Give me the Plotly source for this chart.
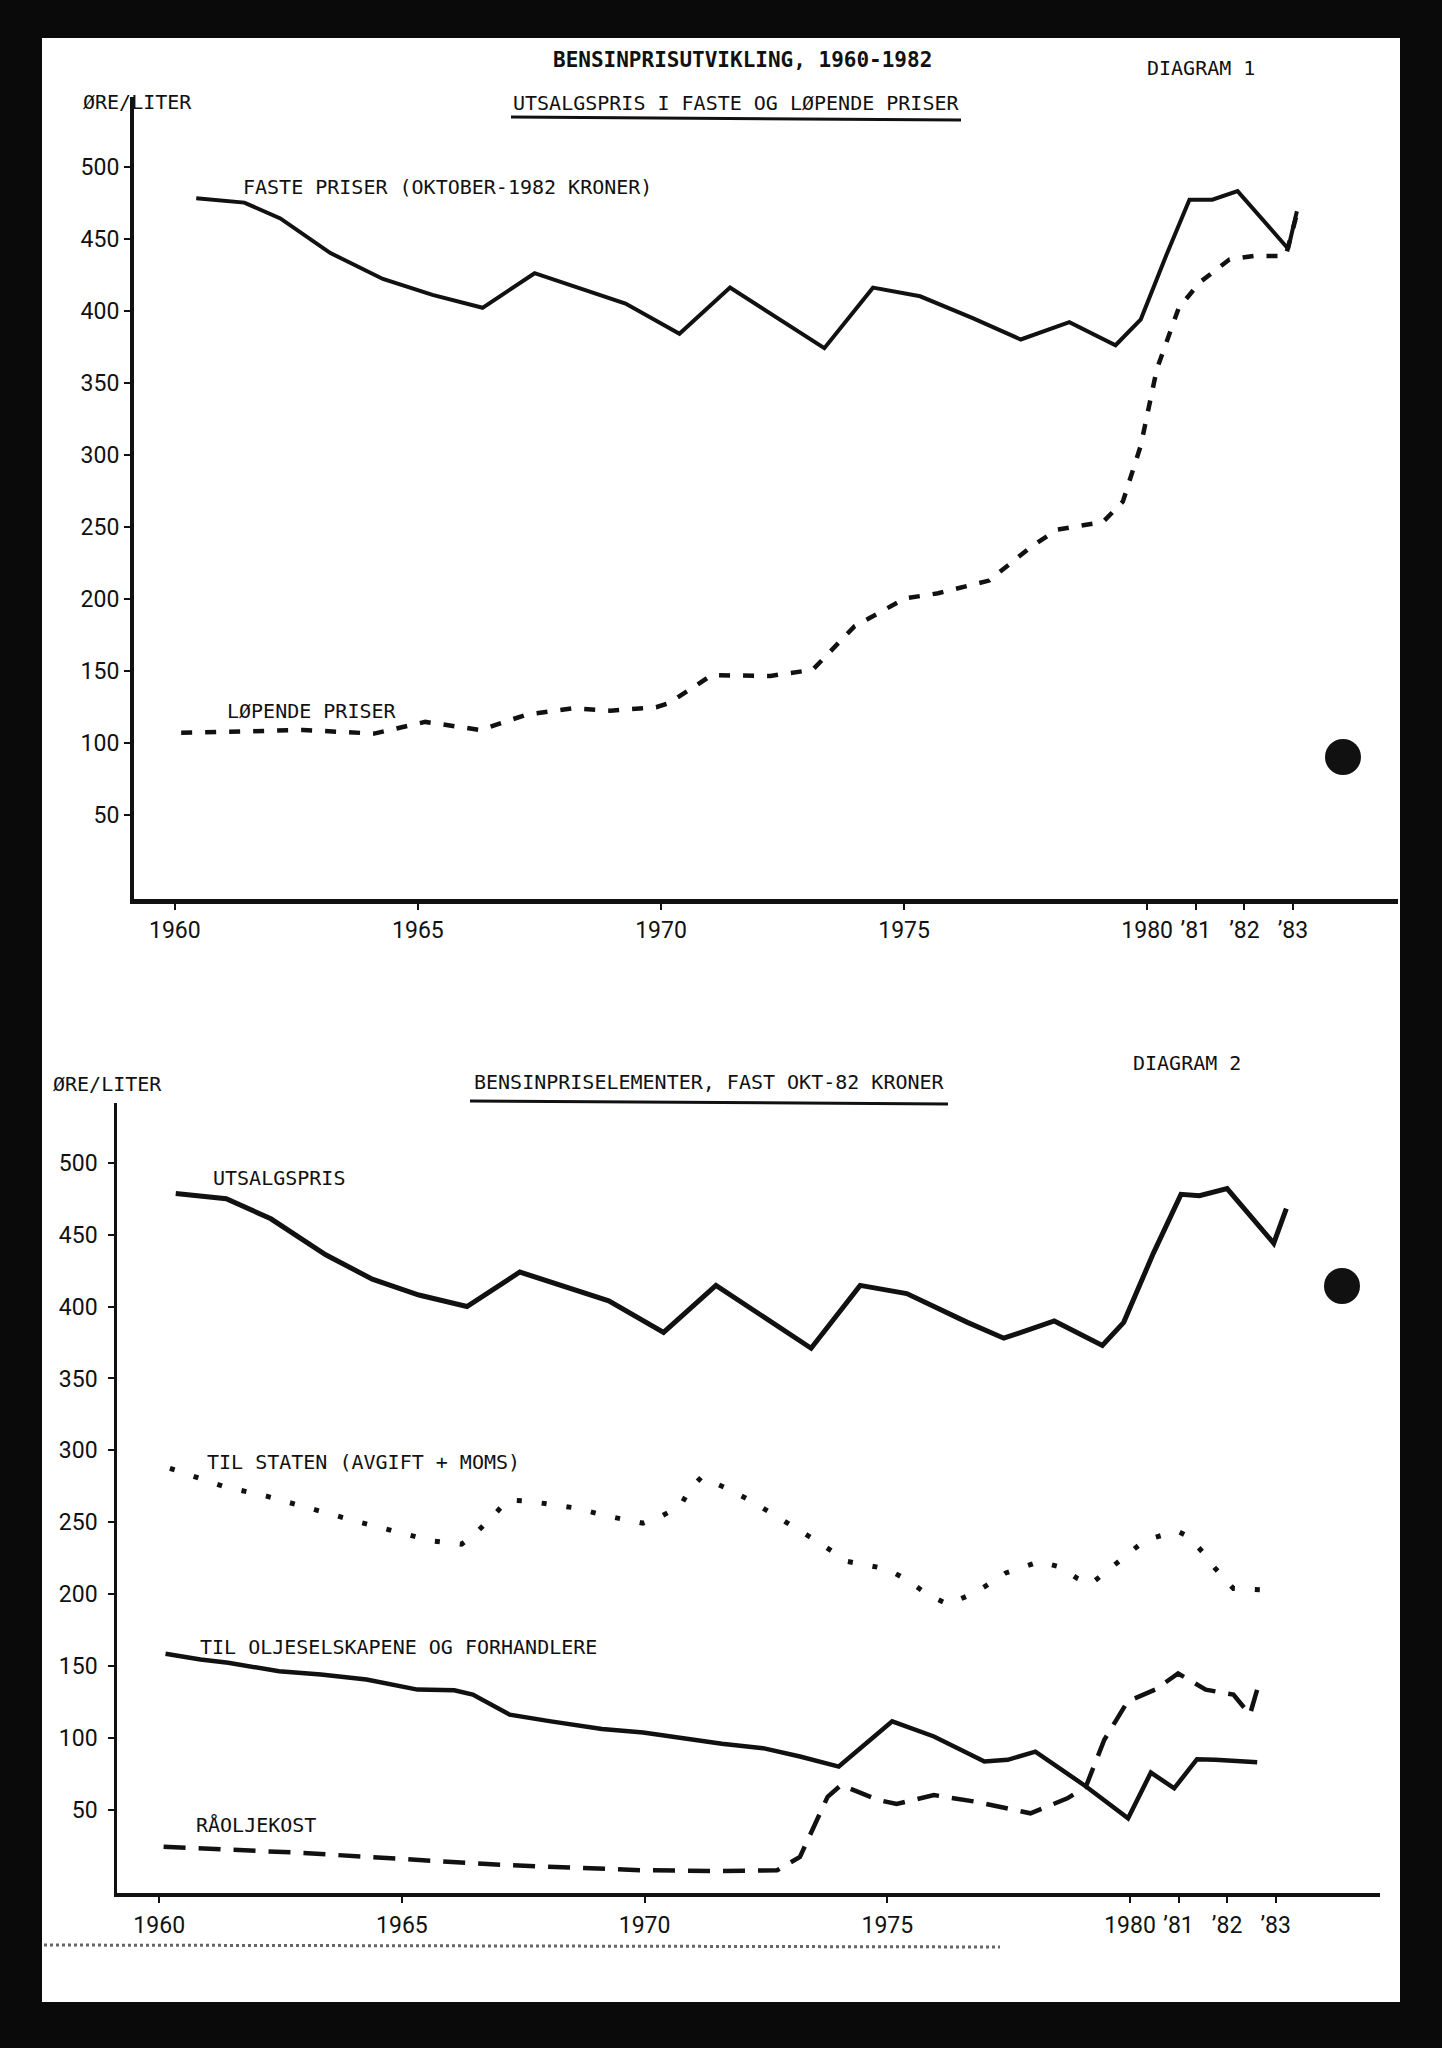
import plotly.graph_objects as go

W, H = 1442, 2048

# --- Diagram 1: utsalgspris, faste og løpende priser (øre/liter)
faste_year = [1960.44, 1961.43, 1962.17, 1963.2, 1964.28, 1965.3, 1966.33, 1967.4, 1969.27, 1970.38,
              1971.42, 1973.36, 1974.36, 1975.33, 1976.4, 1977.4, 1978.4, 1979.35, 1979.87, 1980.4,
              1980.87, 1981.34, 1981.86, 1982.9, 1983.08]
faste_val = [478, 475, 464, 440, 422, 411, 402, 426, 405, 384,
             416, 374, 416, 410, 395, 380, 392, 376, 394, 439,
             477, 477, 483, 443, 469]

lopende_year = [1960.13, 1961.17, 1962.64, 1964.1, 1964.55, 1965.15, 1966.28, 1967.23, 1968.18, 1968.96,
                1969.9, 1970.17, 1971.04, 1972.25, 1973.12, 1973.98, 1975.02, 1975.7, 1976.75, 1977.6,
                1978.14, 1979.09, 1979.5, 1979.87, 1980.2, 1980.65, 1981.08, 1981.69, 1982.2, 1982.85,
                1983.08]
lopende_val = [107, 108, 109, 106.5, 110, 114.6, 109, 119.6, 124, 122.4,
               124.8, 127.7, 147, 146.5, 150.8, 180.9, 200.3, 203.9, 212.7, 235.8,
               248, 253.3, 267.5, 306.5, 359.5, 401.9, 419.6, 435.5, 438, 438,
               467]

# --- Diagram 2: bensinpriselementer, fast okt-82 kroner
utsalg_year = [1960.34, 1961.38, 1962.3, 1963.43, 1964.39, 1965.35, 1966.34, 1967.43, 1969.26, 1970.39,
               1971.47, 1973.43, 1974.44, 1975.4, 1976.65, 1977.4, 1978.44, 1979.43, 1979.87, 1980.48,
               1981.05, 1981.43, 1982.0, 1982.96, 1983.22]
utsalg_val = [478.6, 475, 461, 436, 419, 408, 400, 424, 404, 382,
              414.7, 371, 414.7, 409, 389, 378, 390, 373, 389, 437,
              478, 477, 482, 444, 468]

staten_year = [1960.22, 1960.83, 1961.32, 1962.23, 1963.06, 1964.05, 1964.66, 1965.15, 1965.62, 1966.23,
               1966.49, 1966.92, 1967.18, 1967.62, 1968.57, 1969.18, 1969.96, 1970.3, 1970.74, 1970.91,
               1971.17, 1971.7, 1972.16, 1972.82, 1973.52, 1974.18, 1975.0, 1975.43, 1975.82, 1976.25,
               1976.83, 1977.44, 1978.14, 1978.57, 1978.92, 1979.18, 1979.53, 1979.88, 1980.31, 1980.97,
               1981.21, 1981.49, 1981.73, 1982.13, 1982.74]
staten_val = [287.5, 280.6, 275, 268, 260, 250.8, 245.5, 241.4, 237, 234.8,
              241.4, 256, 265.5, 264.6, 260, 254.7, 249.4, 253.5, 261.4, 272,
              281.4, 273.5, 265.5, 252, 237.5, 222.8, 217.5, 209.5, 200, 193,
              201.4, 214.8, 222.8, 218.8, 210.9, 206.8, 216.2, 225.5, 237.5, 244,
              240, 229.5, 218.9, 204, 203]

olje_year = [1960.13, 1960.85, 1961.42, 1962.47, 1963.33, 1964.27, 1965.32, 1966.08, 1966.46, 1967.22,
             1968.07, 1969.12, 1969.97, 1970.73, 1971.59, 1972.44, 1973.2, 1974.0, 1975.1, 1975.96,
             1977.0, 1977.48, 1978.05, 1979.1, 1979.96, 1980.43, 1980.91, 1981.38, 1981.76, 1982.62]
olje_val = [158.6, 154.6, 152.3, 146.5, 144.2, 140.7, 133.7, 133.2, 130.2, 116.3,
            111.6, 106.3, 103.9, 100, 96, 93, 87.2, 80.2, 111.6, 101.1,
            83.7, 84.9, 90.6, 66.2, 44.2, 76, 65.1, 85.3, 84.9, 83.2]

raaolje_year = [1960.09, 1961.62, 1962.95, 1964.27, 1965.6, 1966.93, 1968.45, 1969.97, 1971.49, 1972.73,
                1973.2, 1973.77, 1974.05, 1974.81, 1975.19, 1975.96, 1976.81, 1977.95, 1978.71, 1979.09,
                1979.47, 1979.95, 1980.52, 1980.99, 1981.56, 1982.13, 1982.47, 1982.66]
raaolje_val = [24.4, 22.5, 20.2, 17.4, 14.6, 12.1, 10, 8.1, 7.6, 8.1,
               17.4, 59.2, 67.4, 57, 54.2, 60.4, 55.8, 47.7, 58.1, 66.2,
               98.8, 125.5, 133.7, 144.9, 133.7, 130.2, 116.3, 138.4]

year_ticks = [1960, 1965, 1970, 1975, 1980, 1981, 1982, 1983]
year_labels = ["1960", "1965", "1970", "1975", "1980", "’81", "’82", "’83"]
price_ticks = [50, 100, 150, 200, 250, 300, 350, 400, 450, 500]

TYPE_FONT = "DejaVu Sans Mono, Liberation Mono, monospace"
NUM_FONT = "Roboto, Liberation Sans, sans-serif"
INK = "#111111"


def px_x(v):
    return v / W


def px_y(v):
    return 1 - v / H


fig = go.Figure()

fig.add_trace(go.Scatter(x=faste_year, y=faste_val, mode="lines", xaxis="x", yaxis="y",
                         line={"color": INK, "width": 4}))
fig.add_trace(go.Scatter(x=lopende_year, y=lopende_val, mode="lines", xaxis="x", yaxis="y",
                         line={"color": INK, "width": 4.5, "dash": "11px,13px"}))

fig.add_trace(go.Scatter(x=utsalg_year, y=utsalg_val, mode="lines", xaxis="x2", yaxis="y2",
                         line={"color": INK, "width": 5}))
fig.add_trace(go.Scatter(x=staten_year, y=staten_val, mode="lines", xaxis="x2", yaxis="y2",
                         line={"color": INK, "width": 5, "dash": "5px,20px"}))
fig.add_trace(go.Scatter(x=olje_year, y=olje_val, mode="lines", xaxis="x2", yaxis="y2",
                         line={"color": INK, "width": 4.5}))
fig.add_trace(go.Scatter(x=raaolje_year, y=raaolje_val, mode="lines", xaxis="x2", yaxis="y2",
                         line={"color": INK, "width": 4.5, "dash": "22px,13px"}))


def xaxis_style(left, right, x0, x1, anchor, standoff):
    return dict(domain=[px_x(left), px_x(right)], range=[x0, x1], anchor=anchor,
                tickvals=year_ticks, ticktext=year_labels, tickangle=0, ticks="outside", ticklen=6,
                tickwidth=2, tickcolor=INK, showline=True, linecolor=INK, showgrid=False,
                zeroline=False, ticklabelstandoff=standoff,
                tickfont={"family": NUM_FONT, "size": 23, "color": INK})


def yaxis_style(top, bottom, y0, y1, anchor, standoff, lw):
    return dict(domain=[px_y(bottom), px_y(top)], range=[y0, y1], anchor=anchor,
                tickvals=price_ticks, ticks="outside", ticklen=6, tickwidth=2, tickcolor=INK,
                showline=True, linecolor=INK, linewidth=lw, showgrid=False, zeroline=False,
                ticklabelstandoff=standoff,
                tickfont={"family": NUM_FONT, "size": 23, "color": INK})


fig.update_layout(
    width=W, height=H,
    margin={"l": 0, "r": 0, "t": 0, "b": 0},
    paper_bgcolor="#0a0a0a",
    plot_bgcolor="rgba(0,0,0,0)",
    showlegend=False,
    xaxis={**xaxis_style(134, 1398, 1959.16, 1985.16, "y", 0), "linewidth": 5},
    yaxis=yaxis_style(97, 899, -8.3, 548.3, "x", 0, 4),
    xaxis2={**xaxis_style(117, 1380, 1959.13, 1985.15, "y2", 2), "linewidth": 4},
    yaxis2=yaxis_style(1103, 1893, -7.7, 541.5, "x2", 6, 2.5),
)

# the scanned page and its punch holes / rulings
fig.add_shape(type="rect", xref="paper", yref="paper", layer="below",
              x0=px_x(42), x1=px_x(1400), y0=px_y(2002), y1=px_y(38),
              fillcolor="white", line={"width": 0})
for cx, cy in [(1343, 757), (1342, 1286)]:
    fig.add_shape(type="circle", xref="paper", yref="paper",
                  x0=px_x(cx - 18), x1=px_x(cx + 18), y0=px_y(cy + 18), y1=px_y(cy - 18),
                  fillcolor=INK, line={"width": 0})
for x0, x1, y in [(511, 961, 117), (470, 948, 1101)]:
    fig.add_shape(type="line", xref="paper", yref="paper",
                  x0=px_x(x0), x1=px_x(x1), y0=px_y(y), y1=px_y(y + 3),
                  line={"color": INK, "width": 3})
fig.add_shape(type="line", xref="paper", yref="paper",
              x0=px_x(44), x1=px_x(1000), y0=px_y(1945), y1=px_y(1947),
              line={"color": "#666666", "width": 3, "dash": "dot"})

labels = [
    ("<b>BENSINPRISUTVIKLING, 1960-1982</b>", 742, 60, "center", 21),
    ("DIAGRAM 1", 1145, 68, "left", 20),
    ("ØRE/LITER", 81, 102, "left", 20),
    ("UTSALGSPRIS I FASTE OG LØPENDE PRISER", 736, 103, "center", 20),
    ("FASTE PRISER (OKTOBER-1982 KRONER)", 241, 187, "left", 20),
    ("LØPENDE PRISER", 225, 711, "left", 20),
    ("DIAGRAM 2", 1131, 1063, "left", 20),
    ("ØRE/LITER", 51, 1084, "left", 20),
    ("BENSINPRISELEMENTER, FAST OKT-82 KRONER", 709, 1082, "center", 20),
    ("UTSALGSPRIS", 211, 1178, "left", 20),
    ("TIL STATEN (AVGIFT + MOMS)", 205, 1462, "left", 20),
    ("TIL OLJESELSKAPENE OG FORHANDLERE", 198, 1647, "left", 20),
    ("RÅOLJEKOST", 194, 1825, "left", 20),
]
for text, x, y, anchor, size in labels:
    fig.add_annotation(text=text, x=px_x(x), y=px_y(y), xref="paper", yref="paper",
                       xanchor=anchor, yanchor="middle", showarrow=False,
                       font={"family": TYPE_FONT, "size": size, "color": INK})

# page is photographed edge to edge, so drop the browser's default body margin
fig.write_html("out.html", config={"displayModeBar": False},
               post_script="document.body.style.margin='0';document.body.style.background='#0a0a0a';")
